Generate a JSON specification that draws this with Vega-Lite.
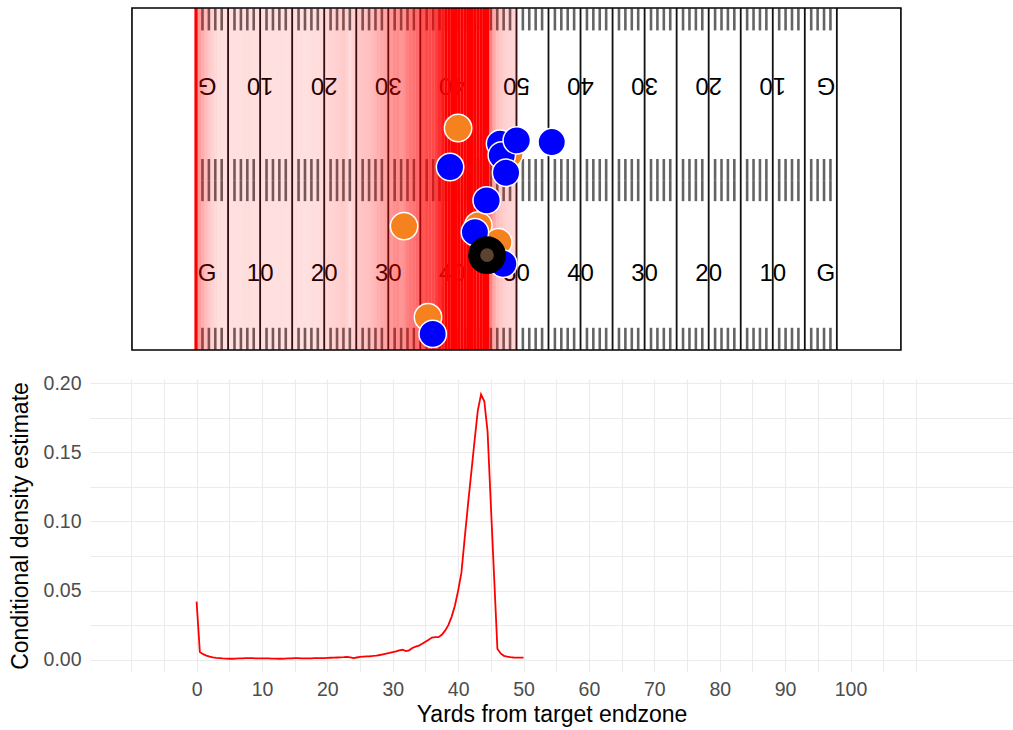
{
  "$schema": "https://vega.github.io/schema/vega-lite/v6.json",
  "padding": {"left": 9, "top": 6, "right": 0, "bottom": 0},
  "background": "white",
  "config": {"font": "Liberation Sans", "view": {"stroke": null}},
  "datasets": {
    "density": [
      {"yd":0,"dens":0.042},{"yd":0.5,"dens":0.0055},{"yd":1,"dens":0.004},{"yd":1.5,"dens":0.003},{"yd":2,"dens":0.0022},{"yd":2.5,"dens":0.0017},{"yd":3,"dens":0.0013},{"yd":3.5,"dens":0.0011},{"yd":4,"dens":0.0009},{"yd":4.5,"dens":0.0008},
      {"yd":5,"dens":0.0007},{"yd":5.5,"dens":0.0007},{"yd":6,"dens":0.0008},{"yd":6.5,"dens":0.0009},{"yd":7,"dens":0.001},{"yd":7.5,"dens":0.0011},{"yd":8,"dens":0.0011},{"yd":8.5,"dens":0.0011},{"yd":9,"dens":0.001},{"yd":9.5,"dens":0.001},
      {"yd":10,"dens":0.001},{"yd":10.5,"dens":0.0009},{"yd":11,"dens":0.0009},{"yd":11.5,"dens":0.0008},{"yd":12,"dens":0.0008},{"yd":12.5,"dens":0.0007},{"yd":13,"dens":0.0007},{"yd":13.5,"dens":0.0008},{"yd":14,"dens":0.0009},{"yd":14.5,"dens":0.001},
      {"yd":15,"dens":0.0012},{"yd":15.5,"dens":0.0011},{"yd":16,"dens":0.001},{"yd":16.5,"dens":0.001},{"yd":17,"dens":0.001},{"yd":17.5,"dens":0.001},{"yd":18,"dens":0.0011},{"yd":18.5,"dens":0.0011},{"yd":19,"dens":0.0011},{"yd":19.5,"dens":0.0012},
      {"yd":20,"dens":0.0013},{"yd":20.5,"dens":0.0014},{"yd":21,"dens":0.0015},{"yd":21.5,"dens":0.0016},{"yd":22,"dens":0.0017},{"yd":22.5,"dens":0.0018},{"yd":23,"dens":0.002},{"yd":23.5,"dens":0.0017},{"yd":24,"dens":0.0012},{"yd":24.5,"dens":0.0016},
      {"yd":25,"dens":0.002},{"yd":25.5,"dens":0.0022},{"yd":26,"dens":0.0024},{"yd":26.5,"dens":0.0025},{"yd":27,"dens":0.0027},{"yd":27.5,"dens":0.003},{"yd":28,"dens":0.0034},{"yd":28.5,"dens":0.0039},{"yd":29,"dens":0.0044},{"yd":29.5,"dens":0.0049},
      {"yd":30,"dens":0.0055},{"yd":30.5,"dens":0.006},{"yd":31,"dens":0.0068},{"yd":31.5,"dens":0.0072},{"yd":32,"dens":0.0062},{"yd":32.5,"dens":0.0068},{"yd":33,"dens":0.0085},{"yd":33.5,"dens":0.0095},{"yd":34,"dens":0.0102},{"yd":34.5,"dens":0.0115},
      {"yd":35,"dens":0.013},{"yd":35.5,"dens":0.0145},{"yd":36,"dens":0.016},{"yd":36.5,"dens":0.0163},{"yd":37,"dens":0.0163},{"yd":37.5,"dens":0.018},{"yd":38,"dens":0.021},{"yd":38.5,"dens":0.025},{"yd":39,"dens":0.031},{"yd":39.5,"dens":0.039},
      {"yd":40,"dens":0.05},{"yd":40.5,"dens":0.063},{"yd":41,"dens":0.088},{"yd":41.5,"dens":0.112},{"yd":42,"dens":0.135},{"yd":42.5,"dens":0.158},{"yd":43,"dens":0.18},{"yd":43.5,"dens":0.192},{"yd":44,"dens":0.187},{"yd":44.5,"dens":0.165},
      {"yd":45,"dens":0.112},{"yd":45.5,"dens":0.06},{"yd":46,"dens":0.008},{"yd":46.5,"dens":0.0045},{"yd":47,"dens":0.0028},{"yd":47.5,"dens":0.0022},{"yd":48,"dens":0.0018},{"yd":48.5,"dens":0.0016},{"yd":49,"dens":0.0015},{"yd":49.5,"dens":0.0015},
      {"yd":50,"dens":0.0015}
    ],
    "hashyards": [
      {"yd":1},{"yd":2},{"yd":3},{"yd":4},{"yd":6},{"yd":7},{"yd":8},{"yd":9},{"yd":11},{"yd":12},{"yd":13},{"yd":14},{"yd":16},{"yd":17},{"yd":18},{"yd":19},
      {"yd":21},{"yd":22},{"yd":23},{"yd":24},{"yd":26},{"yd":27},{"yd":28},{"yd":29},{"yd":31},{"yd":32},{"yd":33},{"yd":34},{"yd":36},{"yd":37},{"yd":38},{"yd":39},
      {"yd":41},{"yd":42},{"yd":43},{"yd":44},{"yd":46},{"yd":47},{"yd":48},{"yd":49},{"yd":51},{"yd":52},{"yd":53},{"yd":54},{"yd":56},{"yd":57},{"yd":58},{"yd":59},
      {"yd":61},{"yd":62},{"yd":63},{"yd":64},{"yd":66},{"yd":67},{"yd":68},{"yd":69},{"yd":71},{"yd":72},{"yd":73},{"yd":74},{"yd":76},{"yd":77},{"yd":78},{"yd":79},
      {"yd":81},{"yd":82},{"yd":83},{"yd":84},{"yd":86},{"yd":87},{"yd":88},{"yd":89},{"yd":91},{"yd":92},{"yd":93},{"yd":94},{"yd":96},{"yd":97},{"yd":98},{"yd":99}
    ],
    "yardlines": [
      {"yd":0},{"yd":5},{"yd":10},{"yd":15},{"yd":20},{"yd":25},{"yd":30},{"yd":35},{"yd":40},{"yd":45},{"yd":50},
      {"yd":55},{"yd":60},{"yd":65},{"yd":70},{"yd":75},{"yd":80},{"yd":85},{"yd":90},{"yd":95},{"yd":100}
    ],
    "numbers": [
      {"yd":10,"lab":"10"},{"yd":20,"lab":"20"},{"yd":30,"lab":"30"},{"yd":40,"lab":"40"},
      {"yd":50,"lab":"50"},
      {"yd":60,"lab":"40"},{"yd":70,"lab":"30"},{"yd":80,"lab":"20"},{"yd":90,"lab":"10"}
    ],
    "goals": [{"yd":0,"lab":"G"},{"yd":100,"lab":"G"}],
    "players": [
      {"team":"Team A","px":40.89,"py":34.61},
      {"team":"Team A","px":32.46,"py":19.32},
      {"team":"Team A","px":36.2,"py":5.12},
      {"team":"Team A","px":44.05,"py":19.43},
      {"team":"Team A","px":47.17,"py":16.82},
      {"team":"Team A","px":48.9,"py":30.6},
      {"team":"Team B","px":47.44,"py":32.16},
      {"team":"Team B","px":47.71,"py":30.35},
      {"team":"Team B","px":50.05,"py":32.69},
      {"team":"Team B","px":55.51,"py":32.43},
      {"team":"Team B","px":39.64,"py":28.53},
      {"team":"Team B","px":48.38,"py":27.64},
      {"team":"Team B","px":45.35,"py":23.33},
      {"team":"Team B","px":43.52,"py":18.38},
      {"team":"Team B","px":47.95,"py":13.44},
      {"team":"Team B","px":36.93,"py":2.51}
    ],
    "ball": [{"px":45.41,"py":14.79}]
  },
  "vconcat": [
    {
      "width": 913,
      "height": 342,
      "layer": [
        {
          "data": {"name": "hashyards"},
          "mark": {"type": "tick", "orient": "vertical", "size": 22, "thickness": 2.6, "color": "#222222"},
          "encoding": {
            "x": {"field": "yd", "type": "quantitative", "scale": {"domain": [-16.55, 125.93], "nice": false, "zero": false}, "axis": null},
            "y": {"datum": 51.55, "type": "quantitative", "scale": {"domain": [0, 53.33], "nice": false, "zero": false}, "axis": null}
          }
        },
        {
          "data": {"name": "hashyards"},
          "mark": {"type": "tick", "orient": "vertical", "size": 21, "thickness": 2.6, "color": "#222222"},
          "encoding": {
            "x": {"field": "yd", "type": "quantitative", "axis": null},
            "y": {"datum": 28.15, "type": "quantitative", "axis": null}
          }
        },
        {
          "data": {"name": "hashyards"},
          "mark": {"type": "tick", "orient": "vertical", "size": 21, "thickness": 2.6, "color": "#222222"},
          "encoding": {
            "x": {"field": "yd", "type": "quantitative", "axis": null},
            "y": {"datum": 24.85, "type": "quantitative", "axis": null}
          }
        },
        {
          "data": {"name": "hashyards"},
          "mark": {"type": "tick", "orient": "vertical", "size": 22, "thickness": 2.6, "color": "#222222"},
          "encoding": {
            "x": {"field": "yd", "type": "quantitative", "axis": null},
            "y": {"datum": 1.75, "type": "quantitative", "axis": null}
          }
        },
        {
          "data": {"name": "yardlines"},
          "mark": {"type": "rule", "color": "#111111", "strokeWidth": 1.8},
          "encoding": {
            "x": {"field": "yd", "type": "quantitative", "axis": null}
          }
        },
        {
          "data": {"name": "numbers"},
          "mark": {"type": "text", "fontSize": 24, "color": "black", "align": "center", "baseline": "middle"},
          "encoding": {
            "x": {"field": "yd", "type": "quantitative", "axis": null},
            "y": {"datum": 11.8, "type": "quantitative", "axis": null},
            "text": {"field": "lab"}
          }
        },
        {
          "data": {"name": "numbers"},
          "mark": {"type": "text", "fontSize": 24, "color": "black", "align": "center", "baseline": "middle", "angle": 180},
          "encoding": {
            "x": {"field": "yd", "type": "quantitative", "axis": null},
            "y": {"datum": 41.3, "type": "quantitative", "axis": null},
            "text": {"field": "lab"}
          }
        },
        {
          "data": {"name": "goals"},
          "transform": [{"filter": "datum.yd == 0"}],
          "mark": {"type": "text", "fontSize": 24, "color": "black", "align": "center", "baseline": "middle", "dx": 11},
          "encoding": {
            "x": {"field": "yd", "type": "quantitative", "axis": null},
            "y": {"datum": 11.8, "type": "quantitative", "axis": null},
            "text": {"field": "lab"}
          }
        },
        {
          "data": {"name": "goals"},
          "transform": [{"filter": "datum.yd == 100"}],
          "mark": {"type": "text", "fontSize": 24, "color": "black", "align": "center", "baseline": "middle", "dx": -11},
          "encoding": {
            "x": {"field": "yd", "type": "quantitative", "axis": null},
            "y": {"datum": 11.8, "type": "quantitative", "axis": null},
            "text": {"field": "lab"}
          }
        },
        {
          "data": {"name": "goals"},
          "transform": [{"filter": "datum.yd == 0"}],
          "mark": {"type": "text", "fontSize": 24, "color": "black", "align": "center", "baseline": "middle", "angle": 180, "dx": -11},
          "encoding": {
            "x": {"field": "yd", "type": "quantitative", "axis": null},
            "y": {"datum": 41.3, "type": "quantitative", "axis": null},
            "text": {"field": "lab"}
          }
        },
        {
          "data": {"name": "goals"},
          "transform": [{"filter": "datum.yd == 100"}],
          "mark": {"type": "text", "fontSize": 24, "color": "black", "align": "center", "baseline": "middle", "angle": 180, "dx": 11},
          "encoding": {
            "x": {"field": "yd", "type": "quantitative", "axis": null},
            "y": {"datum": 41.3, "type": "quantitative", "axis": null},
            "text": {"field": "lab"}
          }
        },
        {
          "data": {"name": "density"},
          "mark": {"type": "rule", "color": "#FF0000", "strokeWidth": 3.3},
          "encoding": {
            "x": {"field": "yd", "type": "quantitative", "axis": null},
            "opacity": {"field": "dens", "type": "quantitative", "scale": {"type": "sqrt", "domain": [0.001, 0.03], "range": [0.12, 1], "clamp": true}, "legend": null}
          }
        },
        {
          "data": {"values": [{}]},
          "mark": {"type": "rect", "filled": false, "stroke": "black", "strokeWidth": 1.6},
          "encoding": {
            "x": {"datum": -10, "type": "quantitative", "axis": null},
            "x2": {"datum": 110},
            "y": {"datum": 0, "type": "quantitative", "axis": null},
            "y2": {"datum": 53.33}
          }
        },
        {
          "data": {"name": "players"},
          "mark": {"type": "point", "filled": true, "size": 750, "stroke": "white", "strokeWidth": 1.5, "opacity": 1},
          "encoding": {
            "x": {"field": "px", "type": "quantitative", "axis": null},
            "y": {"field": "py", "type": "quantitative", "axis": null},
            "color": {"field": "team", "type": "nominal", "scale": {"domain": ["Team A", "Team B"], "range": ["#F5821F", "#0000FF"]}, "legend": null}
          }
        },
        {
          "data": {"name": "ball"},
          "mark": {"type": "point", "filled": true, "size": 660, "fill": "#5B4330", "stroke": "black", "strokeWidth": 12, "opacity": 1, "strokeOpacity": 1},
          "encoding": {
            "x": {"field": "px", "type": "quantitative", "axis": null},
            "y": {"field": "py", "type": "quantitative", "axis": null}
          }
        }
      ]
    },
    {
      "width": 923,
      "height": 293,
      "data": {"name": "density"},
      "mark": {"type": "line", "color": "#FF0000", "strokeWidth": 1.8},
      "encoding": {
        "x": {
          "field": "yd", "type": "quantitative",
          "scale": {"domain": [-16.3, 124.85], "nice": false, "zero": false},
          "axis": {
            "values": [-10,-5,0,5,10,15,20,25,30,35,40,45,50,55,60,65,70,75,80,85,90,95,100,105,110],
            "labelExpr": "datum.value >= 0 && datum.value <= 100 && datum.value % 10 == 0 ? datum.value : ''",
            "title": "Yards from target endzone",
            "grid": true, "gridColor": "#EBEBEB", "gridWidth": 1.1,
            "domain": false, "ticks": false,
            "labelFontSize": 19.5, "labelColor": "#4D4D4D", "labelPadding": 8,
            "titleFontSize": 23, "titleFontWeight": "normal", "titleColor": "black", "titlePadding": 5
          }
        },
        "y": {
          "field": "dens", "type": "quantitative",
          "scale": {"domain": [-0.0089, 0.2031], "nice": false, "zero": false},
          "axis": {
            "values": [0, 0.025, 0.05, 0.075, 0.1, 0.125, 0.15, 0.175, 0.2],
            "labelExpr": "abs(datum.value * 20 - round(datum.value * 20)) < 0.000001 ? format(datum.value, '.2f') : ''",
            "title": "Conditional density estimate",
            "grid": true, "gridColor": "#EBEBEB", "gridWidth": 1.1,
            "domain": false, "ticks": false,
            "labelFontSize": 19.5, "labelColor": "#4D4D4D", "labelPadding": 9,
            "titleFontSize": 23, "titleFontWeight": "normal", "titleColor": "black", "titlePadding": 11
          }
        }
      }
    }
  ],
  "spacing": 29,
  "bounds": "flush",
  "resolve": {"scale": {"x": "independent", "y": "independent"}}
}
